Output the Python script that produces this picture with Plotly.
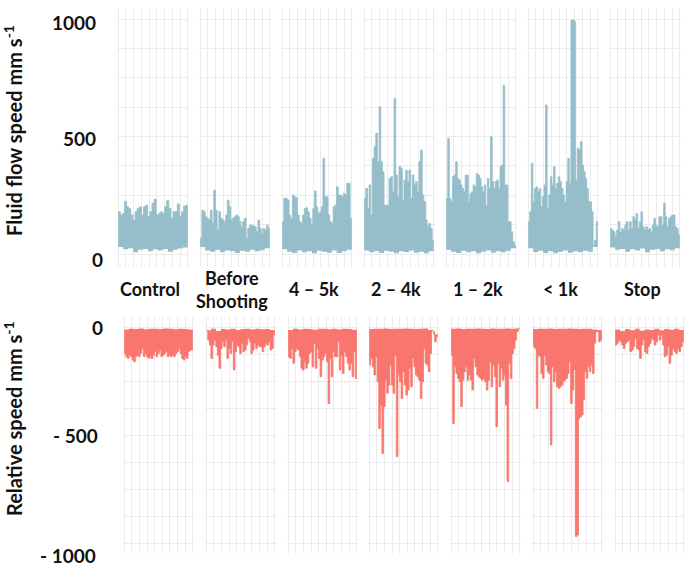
import numpy as np
import plotly.graph_objects as go

# ---------------- data ----------------
categories = ["Control", "Before<br>Shooting", "4 – 5k", "2 – 4k", "1 – 2k", "< 1k", "Stop"]

# Fluid flow speed (mm s-1): upper envelope of the oscillating signal
flow_control = [180, 166, 173, 223, 201, 194, 166, 145, 180, 194, 201, 166, 201, 208, 159, 180, 216,
                233, 166, 173, 180, 173, 201, 227, 194, 152, 180, 180, 213, 159, 180, 204, 208]
flow_before = [67, 187, 180, 159, 152, 145, 187, 131, 272, 187, 102, 180, 152, 145, 138, 166, 230, 201,
               145, 152, 159, 166, 159, 138, 116, 138, 152, 67, 109, 123, 123, 119, 116, 95, 145, 109,
               88, 109, 102, 123, 109]
flow_45k = [138, 237, 237, 230, 166, 152, 251, 244, 240, 166, 138, 131, 166, 194, 197, 180, 152, 126,
            194, 268, 201, 173, 180, 201, 407, 244, 244, 166, 138, 131, 201, 208, 286, 251, 251, 244,
            258, 251, 301, 301, 152]
flow_24k = [237, 279, 194, 294, 166, 407, 457, 514, 393, 627, 393, 350, 208, 208, 208, 322, 329, 265,
            662, 336, 244, 372, 365, 230, 315, 357, 308, 357, 237, 336, 294, 308, 265, 393, 443, 251,
            223, 145, 116, 130, 109, 60]
flow_12k = [237, 492, 237, 223, 329, 336, 393, 322, 315, 294, 279, 265, 336, 336, 223, 258, 265, 294,
            286, 343, 336, 322, 286, 265, 294, 208, 322, 279, 499, 308, 279, 308, 315, 279, 372, 379,
            719, 294, 294, 138, 138, 95, 52, 38]
flow_1k = [138, 180, 386, 223, 279, 286, 265, 279, 201, 244, 294, 634, 194, 251, 329, 294, 372, 279,
           301, 329, 308, 279, 251, 223, 308, 407, 301, 996, 996, 989, 315, 450, 443, 478, 379, 350,
           322, 279, 223, 223, 180, 38, 60, 138]
flow_stop = [109, 102, 95, 74, 102, 138, 95, 109, 102, 123, 138, 102, 138, 109, 159, 145, 173, 109, 138,
             180, 116, 102, 116, 102, 109, 95, 123, 152, 123, 116, 159, 159, 123, 216, 159, 116, 152,
             159, 166, 166, 116, 109, 81]

# Fluid flow speed: lower envelope of the signal
flow_control_low = [30, 20, 25, 8, 18, 22, 12, 20, 15, 22, 10, 18, 24, 28]
flow_before_low = [30, 15, 10, 18, 8, 15, 12, 5, 14, 10, 18, 12, 16, 25]
flow_45k_low = [20, 10, 5, 15, 8, 12, 3, 14, 10, 6, 15, 5, 12, 18]
flow_24k_low = [15, 8, 12, 5, 14, 10, 4, 12, 8, 15, 6, 10, 3, 12]
flow_12k_low = [18, 10, 5, 14, 8, 12, 4, 10, 15, 6, 12, 8, 14, 25]
flow_1k_low = [25, 8, 14, 5, 12, 3, 10, 15, 6, 12, 8, 14, 10, 30]
flow_stop_low = [28, 18, 22, 10, 20, 15, 24, 8, 18, 22, 12, 20, 16, 25]

# Relative speed (mm s-1): deepest envelope of the signal
rel_control = [-119, -134, -142, -127, -134, -150, -158, -134, -127, -134, -119, -96, -134, -119, -134,
               -142, -134, -142, -127, -111, -134, -119, -103, -134, -127, -119, -111, -134, -127, -134,
               -127, -134, -119, -111, -96, -119, -142, -150, -134, -142, -111, -103, -103]
rel_before = [-11, -57, -80, -142, -80, -57, -88, -127, -188, -96, -65, -88, -57, -142, -96, -119, -65,
              -196, -111, -80, -88, -119, -72, -111, -103, -80, -49, -65, -119, -103, -72, -96, -80,
              -88, -88, -111, -88, -72, -80, -65, -103, -96, -34]
rel_45k = [-134, -142, -96, -165, -111, -96, -103, -134, -188, -196, -158, -188, -165, -119, -111, -181,
           -72, -188, -96, -142, -227, -150, -134, -119, -158, -351, -142, -227, -111, -134, -134, -65,
           -196, -127, -212, -111, -134, -165, -196, -165, -227, -111, -235]
rel_24k = [-173, -142, -181, -219, -134, -250, -467, -359, -583, -366, -243, -304, -266, -173, -266,
           -304, -127, -598, -219, -250, -328, -204, -266, -312, -289, -188, -274, -142, -181, -219,
           -227, -243, -328, -250, -96, -165, -173, -204, -119, -11, -18, -65, -42]
rel_12k = [-127, -444, -181, -212, -235, -250, -366, -243, -204, -181, -243, -219, -243, -289, -142,
           -181, -219, -227, -235, -243, -235, -250, -289, -243, -158, -274, -173, -227, -459, -165,
           -274, -188, -243, -219, -359, -714, -165, -235, -119, -96, -57, -18, -3]
rel_1k = [-88, -96, -374, -127, -134, -212, -235, -127, -173, -204, -212, -544, -181, -250, -204, -274,
          -281, -274, -266, -250, -243, -235, -212, -158, -351, -289, -196, -969, -961, -420, -413,
          -405, -335, -204, -235, -181, -204, -173, -212, -72, -18, -18, -65, -57]
rel_stop = [-80, -72, -57, -65, -80, -96, -72, -65, -57, -111, -103, -88, -49, -96, -103, -142, -80,
            -57, -111, -119, -88, -72, -49, -57, -80, -65, -34, -57, -34, -80, -134, -127, -88, -165,
            -127, -96, -111, -119, -96, -111, -88, -65]

# Relative speed: envelope nearest zero
rel_control_top = [-8, -4, -6, -3, -7, -5, -4, -6, -3, -5, -7, -4, -6, -8]
rel_before_top = [-12, -5, -15, -6, -8, -4, -10, -6, -5, -8, -4, -7, -6, -10]
rel_45k_top = [-10, -5, -8, -4, -6, -9, -5, -4, -7, -5, -8, -4, -6, -9]
rel_24k_top = [-6, -4, -5, -3, -6, -4, -5, -3, -4, -6, -5, -3, -10, -30]
rel_12k_top = [-5, -3, -6, -4, -5, -3, -4, -6, -3, -5, -4, -3, -5, -3]
rel_1k_top = [-6, -4, -5, -3, -6, -4, -5, -3, -4, -6, -5, -4, -8, -10]
rel_stop_top = [-8, -15, -6, -12, -5, -14, -8, -10, -4, -12, -6, -9, -5, -10]

flow_tick_values = [0, 500, 1000]
flow_tick_labels = ["0", "500", "1000"]
rel_tick_values = [0, -500, -1000]
rel_tick_labels = ["0", "- 500", "- 1000"]

flow_peaks = [flow_control, flow_before, flow_45k, flow_24k, flow_12k, flow_1k, flow_stop]
flow_lows = [flow_control_low, flow_before_low, flow_45k_low, flow_24k_low, flow_12k_low,
             flow_1k_low, flow_stop_low]
rel_peaks = [rel_control, rel_before, rel_45k, rel_24k, rel_12k, rel_1k, rel_stop]
rel_tops = [rel_control_top, rel_before_top, rel_45k_top, rel_24k_top, rel_12k_top, rel_1k_top,
            rel_stop_top]

# ---------------- layout / style ----------------
W, H = 695, 566
BLUE = "#95BECA"
RED = "#F8766D"
GRID = "#EBEBEB"
TXT = "#111111"
FONT = "Lato"

top_left = [117, 199, 281, 363, 445, 527, 609]
top_w = 72
bot_left = [123, 205, 287, 368, 450, 532, 614]
bot_w = 71
top_px = (8, 267)
bot_px = (317, 553)
top_range = [-55, 1047]
bot_range = [-1045, 50]


def py(p):
    return 1 - p / H


def steps(vals):
    xs = np.linspace(0, 9, len(vals) + 1)
    return list(xs), list(vals) + [vals[-1]]


fig = go.Figure()
layout = {}

rows = [
    (flow_lows, flow_peaks, BLUE, top_range, top_px, top_left, top_w),
    (rel_tops, rel_peaks, RED, bot_range, bot_px, bot_left, bot_w),
]

for r, (bases, peaks, color, yr, ypx, lefts, w) in enumerate(rows):
    for i in range(7):
        k = r * 7 + i + 1
        xa = "x" if k == 1 else f"x{k}"
        ya = "y" if k == 1 else f"y{k}"
        bx, by = steps(bases[i])
        px_, pyv = steps(peaks[i])
        fig.add_trace(go.Scatter(x=bx, y=by, xaxis=xa, yaxis=ya, mode="lines",
                                 line=dict(width=0, color=color, shape="hv"),
                                 hoverinfo="skip", showlegend=False))
        fig.add_trace(go.Scatter(x=px_, y=pyv, xaxis=xa, yaxis=ya, mode="lines",
                                 line=dict(width=0.8, color=color, shape="hv"),
                                 fill="tonexty", fillcolor=color,
                                 showlegend=False, name=categories[i].replace("<br>", " ")))
        layout["xaxis" if k == 1 else f"xaxis{k}"] = dict(
            domain=[lefts[i] / W, (lefts[i] + w) / W], range=[-0.15, 9.15], anchor=ya,
            tickvals=list(range(10)), showticklabels=False, ticks="", showgrid=True,
            gridcolor=GRID, gridwidth=1, zeroline=False, showline=False)
        layout["yaxis" if k == 1 else f"yaxis{k}"] = dict(
            domain=[py(ypx[1]), py(ypx[0])], range=yr, anchor=xa, tick0=0, dtick=125,
            showticklabels=False, ticks="", showgrid=True, gridcolor=GRID, gridwidth=1,
            zeroline=False, showline=False)

annotations = []
tick_font = dict(family=FONT, size=19, color=TXT, weight=700)

# y tick labels (placed as in the reference)
top_label_px = [(105, 260), (98, 139), (98, 23)]
for (xp, yp), lab in zip(top_label_px, flow_tick_labels):
    annotations.append(dict(x=xp / W, y=py(yp), xref="paper", yref="paper", text=lab,
                            showarrow=False, xanchor="right", yanchor="middle", font=tick_font))
bot_label_px = [(105, 327), (100, 435), (98, 555)]
for (xp, yp), lab in zip(bot_label_px, rel_tick_labels):
    annotations.append(dict(x=xp / W, y=py(yp), xref="paper", yref="paper", text=lab,
                            showarrow=False, xanchor="right", yanchor="middle", font=tick_font))

# category labels between the rows
for i, cat in enumerate(categories):
    cx = top_left[i] + top_w / 2 - 3
    annotations.append(dict(x=cx / W, y=py(289), xref="paper", yref="paper", text=cat,
                            showarrow=False, xanchor="center", yanchor="middle",
                            font=dict(family=FONT, size=18, color=TXT, weight=700)))

# axis titles
title_font = dict(family=FONT, size=20, color=TXT, weight=700)
annotations.append(dict(x=13 / W, y=py(131), xref="paper", yref="paper",
                        text="Fluid flow speed mm s<sup>-1</sup>", textangle=-90,
                        showarrow=False, xanchor="center", yanchor="middle", font=title_font))
annotations.append(dict(x=13 / W, y=py(419), xref="paper", yref="paper",
                        text="Relative speed mm s<sup>-1</sup>", textangle=-90,
                        showarrow=False, xanchor="center", yanchor="middle", font=title_font))

fig.update_layout(**layout)
fig.update_layout(width=W, height=H, margin=dict(l=0, r=0, t=0, b=0),
                  paper_bgcolor="white", plot_bgcolor="white",
                  annotations=annotations, showlegend=False)

fig.write_html("out.html")
